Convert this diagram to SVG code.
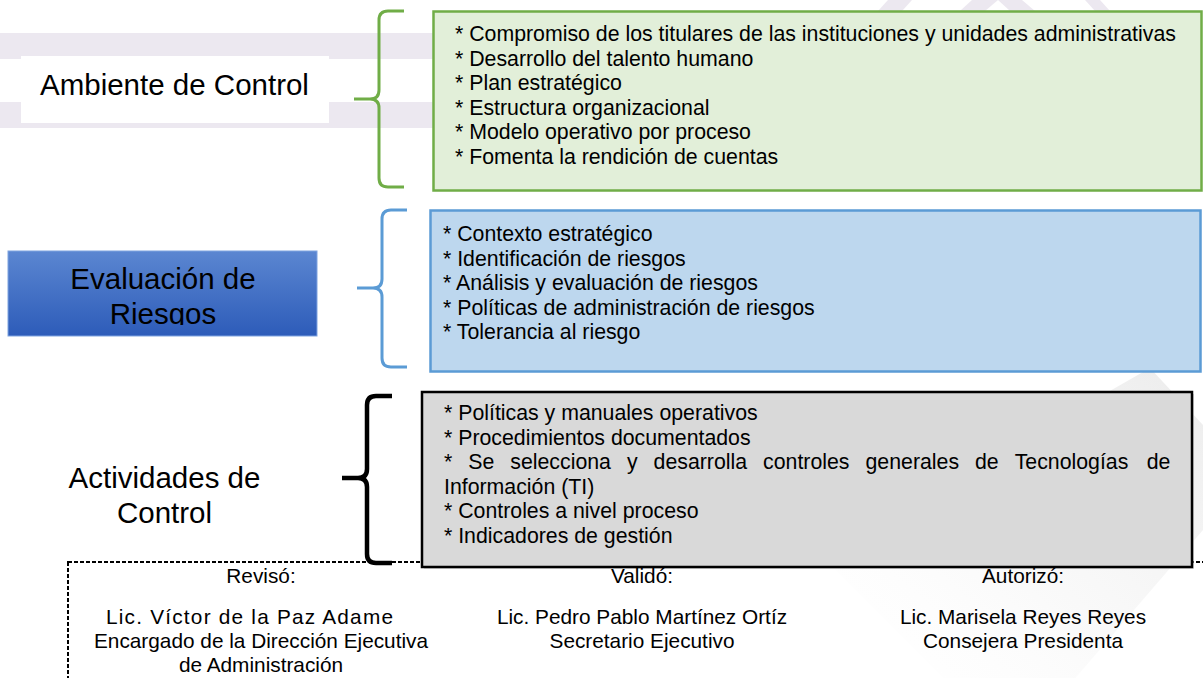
<svg xmlns="http://www.w3.org/2000/svg" width="1203" height="678" viewBox="0 0 1203 678">
<defs>
<style>
text{font-family:"Liberation Sans",Arial,sans-serif;fill:#000}
.lbl{font-size:29.5px}
.bx{font-size:21.3px}
.sig{font-size:20.8px;text-anchor:middle}
.brace{fill:none;stroke-linecap:butt;stroke-linejoin:round}
</style>
<linearGradient id="blueGrad" x1="0" y1="0" x2="0" y2="1">
<stop offset="0" stop-color="#5b86d1"/>
<stop offset="1" stop-color="#2d5cb9"/>
</linearGradient>
<linearGradient id="wmGrad" x1="1" y1="0" x2="0" y2="1">
<stop offset="0" stop-color="#dcdcdc" stop-opacity="0.55"/>
<stop offset="0.55" stop-color="#efefef" stop-opacity="0.35"/>
<stop offset="1" stop-color="#ffffff" stop-opacity="0"/>
</linearGradient>
<clipPath id="clipEval"><rect x="8" y="251" width="309" height="74"/></clipPath>
</defs>
<rect width="1203" height="678" fill="#ffffff"/>
<g id="background">
<rect x="0" y="33" width="440" height="26" fill="#ece8f0"/>
<rect x="0" y="102" width="440" height="26" fill="#ece8f0"/>
<polygon points="878,11 902,11 912,0 888,0" fill="#ece8f0"/>
<polygon points="960,11 985,11 998,0 972,0" fill="#ece8f0"/>
<polygon points="998,0 1022,0 1035,11 1010,11" fill="#ece8f0"/>
<polygon points="1085,0 1100,0 1110,11 1095,11" fill="#ece8f0"/>
<polygon points="1150,368 1203,425 1203,530 1065,690 955,690 822,556" fill="url(#wmGrad)"/>
</g>
<g id="signature-frame">
<rect x="68" y="562" width="1200" height="200" fill="none" stroke="#000" stroke-width="2" stroke-dasharray="4 2"/>
</g>
<g id="connectors">
<path class="brace" stroke="#70ad47" stroke-width="3" d="M404,11 L388,11 Q379,11 379,20 L379,90 Q379,99 370,99 L354,99 M370,99 Q379,99 379,108 L379,178 Q379,187 388,187 L404,187"/>
<path class="brace" stroke="#5b9bd5" stroke-width="3" d="M407,210 L391,210 Q382,210 382,219 L382,279 Q382,288 373,288 L357,288 M373,288 Q382,288 382,297 L382,358 Q382,367 391,367 L407,367"/>
</g>
<g id="node-ambiente">
<rect x="21" y="56" width="308" height="67" fill="#ffffff"/>
<text class="lbl" x="40" y="95">Ambiente de Control</text>
</g>
<g id="node-ambiente-items">
<rect x="433.5" y="11.5" width="768" height="179" fill="#e2efd9" stroke="#70ad47" stroke-width="2.5"/>
<text class="bx" x="455" y="41">* Compromiso de los titulares de las instituciones y unidades administrativas</text>
<text class="bx" x="455" y="65.5">* Desarrollo del talento humano</text>
<text class="bx" x="455" y="90">* Plan estratégico</text>
<text class="bx" x="455" y="114.5">* Estructura organizacional</text>
<text class="bx" x="455" y="139">* Modelo operativo por proceso</text>
<text class="bx" x="455" y="163.5">* Fomenta la rendición de cuentas</text>
</g>
<g id="node-evaluacion">
<rect x="8" y="251" width="309" height="85" fill="url(#blueGrad)" stroke="#7fa3e0" stroke-width="1"/>
<g clip-path="url(#clipEval)">
<text class="lbl" x="163" y="289" text-anchor="middle">Evaluación de</text>
<text class="lbl" x="163" y="324" text-anchor="middle">Riesgos</text>
</g>
</g>
<g id="node-evaluacion-items">
<rect x="430.5" y="210.5" width="770" height="161" fill="#bdd7ee" stroke="#5b9bd5" stroke-width="2.5"/>
<text class="bx" x="443" y="241">* Contexto estratégico</text>
<text class="bx" x="443" y="265.5">* Identificación de riesgos</text>
<text class="bx" x="443" y="290">* Análisis y evaluación de riesgos</text>
<text class="bx" x="443" y="314.5">* Políticas de administración de riesgos</text>
<text class="bx" x="443" y="339">* Tolerancia al riesgo</text>
</g>
<g id="node-actividades">
<text class="lbl" x="164.5" y="488" text-anchor="middle">Actividades de</text>
<text class="lbl" x="164.5" y="523" text-anchor="middle">Control</text>
</g>
<g id="node-actividades-items">
<rect x="424" y="394" width="770" height="175" fill="#bdbdbd" opacity="0.5"/>
<rect x="422" y="392" width="770" height="175" fill="#d9d9d9" stroke="#000" stroke-width="2.5"/>
<text class="bx" x="444" y="420">* Políticas y manuales operativos</text>
<text class="bx" x="444" y="444.5">* Procedimientos documentados</text>
<text class="bx" y="469"><tspan x="444">*</tspan><tspan x="468.3">Se</tspan><tspan x="510.3">selecciona</tspan><tspan x="626.9">y</tspan><tspan x="653.6">desarrolla</tspan><tspan x="763.1">controles</tspan><tspan x="865.5">generales</tspan><tspan x="975">de</tspan><tspan x="1014.7">Tecnologías</tspan><tspan x="1146.7">de</tspan></text>
<text class="bx" x="444" y="493.5">Información (TI)</text>
<text class="bx" x="444" y="518">* Controles a nivel proceso</text>
<text class="bx" x="444" y="542.5">* Indicadores de gestión</text>
</g>
<g id="connector-black">
<path class="brace" stroke="#000" stroke-width="4.5" d="M392,396 L376,396 Q367,396 367,405 L367,469 Q367,478 358,478 L342,478 M358,478 Q367,478 367,487 L367,554 Q367,563 376,563 L392,563"/>
</g>
<g id="node-reviso">
<text class="sig" x="261" y="583">Revisó:</text>
<text class="sig" x="106" y="624" style="text-anchor:start" textLength="287" lengthAdjust="spacing">Lic. Víctor de la Paz Adame</text>
<text class="sig" x="261" y="648">Encargado de la Dirección Ejecutiva</text>
<text class="sig" x="261" y="672">de Administración</text>
</g>
<g id="node-valido">
<text class="sig" x="642" y="583">Validó:</text>
<text class="sig" x="642" y="624">Lic. Pedro Pablo Martínez Ortíz</text>
<text class="sig" x="642" y="648">Secretario Ejecutivo</text>
</g>
<g id="node-autorizo">
<text class="sig" x="1023" y="583">Autorizó:</text>
<text class="sig" x="1023" y="624">Lic. Marisela Reyes Reyes</text>
<text class="sig" x="1023" y="648">Consejera Presidenta</text>
</g>
</svg>
